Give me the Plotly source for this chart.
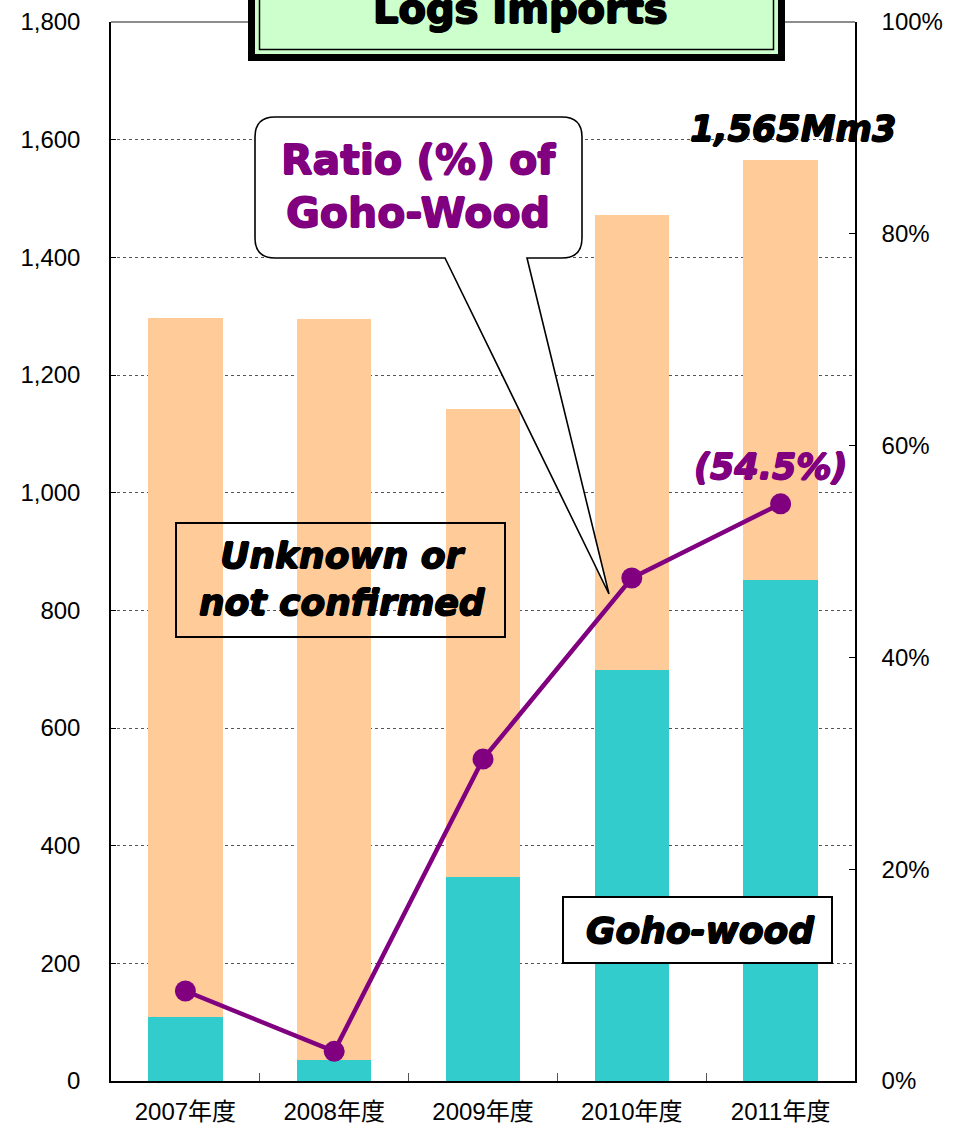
import plotly.graph_objects as go

# ---- data ----
years = ["2007年度", "2008年度", "2009年度", "2010年度", "2011年度"]
total_imports = [1297, 1295, 1142, 1472, 1565]      # Mm3
goho_wood = [109, 36, 347, 699, 852]                 # Mm3
goho_ratio_pct = [8.5, 2.8, 30.4, 47.5, 54.5]        # %
left_ticks = [0, 200, 400, 600, 800, 1000, 1200, 1400, 1600, 1800]
right_ticks = [0, 0.2, 0.4, 0.6, 0.8, 1.0]

unknown = [t - g for t, g in zip(total_imports, goho_wood)]
ratio = [r / 100 for r in goho_ratio_pct]

# ---- layout geometry (pixels) ----
W, H = 958, 1128
L, R, T, B = 111, 103, 22, 47
PW, PH = W - L - R, H - T - B


def px(X):
    return (X - L) / PW


def py(Y):
    return (H - B - Y) / PH


def heavy_shadow(color, d=0.7):
    return (f"{d}px 0px 0px {color}, -{d}px 0px 0px {color}, "
            f"0px {d}px 0px {color}, 0px -{d}px 0px {color}")


TICKFONT = dict(family="Liberation Sans, Arial, Noto Sans CJK JP", size=24, color="#000000")
HEAVY = "DejaVu Sans, Liberation Sans"
PURPLE = "#800080"

fig = go.Figure()
fig.add_trace(go.Bar(x=years, y=goho_wood, name="Goho-wood",
                     marker=dict(color="#33CCCC", line=dict(width=0))))
fig.add_trace(go.Bar(x=years, y=unknown, name="Unknown or not confirmed",
                     marker=dict(color="#FFCC99", line=dict(width=0))))
fig.add_trace(go.Scatter(x=years, y=ratio, yaxis="y2", mode="lines+markers",
                         name="Ratio", line=dict(color=PURPLE, width=4.5),
                         marker=dict(color=PURPLE, size=21)))

shapes = []
# top border
shapes.append(dict(type="line", xref="paper", yref="paper", x0=0, x1=1, y0=1, y1=1,
                   line=dict(color="#666666", width=1.5), layer="below"))

# Title box (double border)
shapes.append(dict(type="rect", xref="paper", yref="paper",
                   x0=px(248), x1=px(785), y0=py(61), y1=py(-30),
                   fillcolor="#000000", line=dict(width=0)))
shapes.append(dict(type="rect", xref="paper", yref="paper",
                   x0=px(255), x1=px(778), y0=py(54), y1=py(-30),
                   fillcolor="#CCFFCC", line=dict(width=0)))
shapes.append(dict(type="rect", xref="paper", yref="paper",
                   x0=px(259.5), x1=px(773.5), y0=py(49.5), y1=py(-30),
                   fillcolor="#CCFFCC", line=dict(color="#000000", width=1.5)))

# Callout bubble with tail
bx0, bx1, by0, by1, rr = 255, 582, 117, 258, 20
tail_l, tail_r, tip = 445, 527, (609, 594)
pts = [
    ("M", (tail_l, by1)), ("L", tip), ("L", (tail_r, by1)),
    ("L", (bx1 - rr, by1)), ("Q", (bx1, by1), (bx1, by1 - rr)),
    ("L", (bx1, by0 + rr)), ("Q", (bx1, by0), (bx1 - rr, by0)),
    ("L", (bx0 + rr, by0)), ("Q", (bx0, by0), (bx0, by0 + rr)),
    ("L", (bx0, by1 - rr)), ("Q", (bx0, by1), (bx0 + rr, by1)),
]
path = ""
for item in pts:
    cmd = item[0]
    coords = " ".join(f"{px(x):.5f},{py(y):.5f}" for x, y in item[1:])
    path += f"{cmd}{coords} "
path += "Z"
shapes.append(dict(type="path", xref="paper", yref="paper", path=path,
                   fillcolor="#FFFFFF", line=dict(color="#000000", width=1.6)))

# Unknown box (no fill)
shapes.append(dict(type="rect", xref="paper", yref="paper",
                   x0=px(176), x1=px(505), y0=py(637), y1=py(523),
                   line=dict(color="#000000", width=2)))
# Goho-wood box (white)
shapes.append(dict(type="rect", xref="paper", yref="paper",
                   x0=px(563), x1=px(832), y0=py(963), y1=py(897),
                   fillcolor="#FFFFFF", line=dict(color="#000000", width=2)))

annotations = [
    dict(text="<b>Logs Imports</b>", x=px(520), y=py(9), xref="paper", yref="paper",
         showarrow=False, xanchor="center", yanchor="middle",
         font=dict(family=HEAVY, size=40, color="#000000", shadow=heavy_shadow("#000000", 1))),
    dict(text="<b>Ratio (%) of<br>Goho-Wood</b>", x=px(418), y=py(187), xref="paper", yref="paper",
         showarrow=False, xanchor="center", yanchor="middle", align="center",
         font=dict(family=HEAVY, size=41, color=PURPLE, shadow=heavy_shadow(PURPLE, 0.8))),
    dict(text="<b><i>1,565Mm3</i></b>", x=px(793), y=py(129), xref="paper", yref="paper",
         showarrow=False, xanchor="center", yanchor="middle",
         font=dict(family=HEAVY, size=35, color="#000000", shadow=heavy_shadow("#000000", 0.8))),
    dict(text="<b><i>(54.5%)</i></b>", x=px(770), y=py(467), xref="paper", yref="paper",
         showarrow=False, xanchor="center", yanchor="middle",
         font=dict(family=HEAVY, size=35, color=PURPLE, shadow=heavy_shadow(PURPLE, 0.8))),
    dict(text="<b><i>Unknown or<br>not confirmed</i></b>", x=px(342), y=py(579), xref="paper", yref="paper",
         showarrow=False, xanchor="center", yanchor="middle", align="center",
         font=dict(family=HEAVY, size=36, color="#000000", shadow=heavy_shadow("#000000", 0.8))),
    dict(text="<b><i>Goho-wood</i></b>", x=px(700), y=py(930), xref="paper", yref="paper",
         showarrow=False, xanchor="center", yanchor="middle",
         font=dict(family=HEAVY, size=36, color="#000000", shadow=heavy_shadow("#000000", 0.8))),
]

fig.update_layout(
    width=W, height=H,
    margin=dict(l=L, r=R, t=T, b=B, pad=0, autoexpand=False),
    paper_bgcolor="#FFFFFF", plot_bgcolor="#FFFFFF",
    barmode="stack", bargap=0.5, showlegend=False,
    font=TICKFONT,
    xaxis=dict(showline=True, linecolor="#000000", linewidth=1.5, automargin=False,
               ticks="inside", tickson="boundaries", ticklen=8, tickcolor="#555555",
               tickfont=TICKFONT, showgrid=False, ticklabelstandoff=8),
    yaxis=dict(range=[0, 1800], tickvals=left_ticks, tickformat=",", automargin=False,
               showline=True, linecolor="#000000", linewidth=1.5,
               ticks="inside", ticklen=5, tickcolor="#000000",
               showgrid=True, gridcolor="#555555", gridwidth=1, griddash="dot",
               zeroline=False, tickfont=TICKFONT, ticklabelstandoff=24),
    yaxis2=dict(range=[0, 1], tickvals=right_ticks, tickformat=".0%", automargin=False,
                overlaying="y", side="right",
                showline=True, linecolor="#000000", linewidth=1.5,
                ticks="inside", ticklen=6, tickcolor="#000000",
                showgrid=False, zeroline=False, tickfont=TICKFONT, ticklabelstandoff=20),
    shapes=shapes, annotations=annotations,
)

fig.write_html("out.html", config={"displayModeBar": False},
               post_script="document.body.style.margin='0px';document.body.style.overflow='hidden';")
